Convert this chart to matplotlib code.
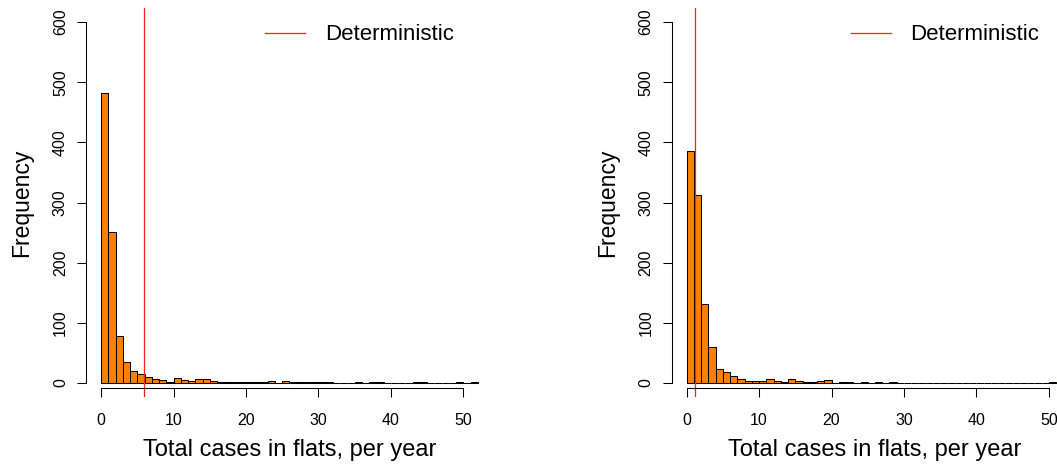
import matplotlib
matplotlib.use("Agg")
import matplotlib.pyplot as plt
from matplotlib.lines import Line2D
import numpy as np

plt.rcParams['font.family'] = ['Liberation Sans', 'DejaVu Sans']

# Histogram counts per unit bin (bin i covers [i, i+1))
counts_left = [482, 251, 78, 35, 20, 15, 10, 7, 5, 2,
               9, 5, 3, 6, 6, 4, 1, 1, 1, 2,
               1, 1, 1, 3, 0, 4, 1, 1, 1, 1,
               2, 1, 0, 0, 0, 1, 0, 1, 1, 0,
               0, 0, 0, 1, 1, 0, 0, 0, 0, 1,
               0, 1]
counts_right = [385, 313, 132, 59, 23, 18, 12, 6, 4, 4,
                3, 6, 4, 2, 6, 3, 1, 1, 4, 5,
                0, 2, 1, 0, 2, 0, 1, 0, 2, 0,
                0, 0, 0, 0, 0, 0, 0, 0, 0, 0,
                0, 0, 0, 0, 0, 0, 0, 0, 0, 0,
                1, 0]
deterministic_left = 5.92
deterministic_right = 1.15

x_ticks = [0, 10, 20, 30, 40, 50]
y_ticks = [0, 100, 200, 300, 400, 500, 600]
xlabel = "Total cases in flats, per year"
ylabel = "Frequency"
legend_label = "Deterministic"

W, H = 1057, 471
fig = plt.figure(figsize=(W / 100, H / 100), dpi=100)

def px_axes(left_px):
    top_px, bot_px = 7.6, 397.4
    return fig.add_axes([left_px / W, (H - bot_px) / H, 407 / W, (bot_px - top_px) / H])

def draw(ax, counts, det, leg_x_px):
    edges = np.arange(len(counts))
    ax.bar(edges, counts, width=1.0, align='edge', color='#FF8000',
           edgecolor='black', linewidth=0.75)
    ax.axvline(det, color='#FF2020', linewidth=0.9)
    ax.set_xlim(-0.04 * 52, 52 + 0.04 * 52)
    ax.set_ylim(-24, 624)
    for s in ['top', 'right']:
        ax.spines[s].set_visible(False)
    ax.spines['left'].set_bounds(0, 600)
    ax.spines['bottom'].set_bounds(0, 50)
    ax.spines['bottom'].set_position(('data', -8.3))
    ax.spines['left'].set_linewidth(0.75)
    ax.spines['bottom'].set_linewidth(0.75)
    ax.set_xticks(x_ticks)
    ax.set_yticks(y_ticks)
    ax.tick_params(direction='out', length=6.5, width=0.75, labelsize=11.5, colors='black')
    ax.tick_params(axis='x', pad=11.5)
    ax.tick_params(axis='y', pad=6.5)
    for lab in ax.get_yticklabels():
        lab.set_rotation(90)
        lab.set_va('center')
    ax.set_xlabel(xlabel, fontsize=17, labelpad=8)
    ax.set_ylabel(ylabel, fontsize=16.5, labelpad=14)
    h = Line2D([], [], color='#FF2020', linewidth=0.9)
    ax.legend([h], [legend_label], loc='center left', frameon=False,
              bbox_to_anchor=(leg_x_px / W, (H - 35) / H),
              bbox_transform=fig.transFigure, fontsize=16,
              handlelength=1.8, handletextpad=0.9, borderpad=0,
              borderaxespad=0)

ax1 = px_axes(86)
draw(ax1, counts_left, deterministic_left, 265)
ax2 = px_axes(671.5)
draw(ax2, counts_right, deterministic_right, 850.5)

fig.savefig("out.png", dpi=100)
